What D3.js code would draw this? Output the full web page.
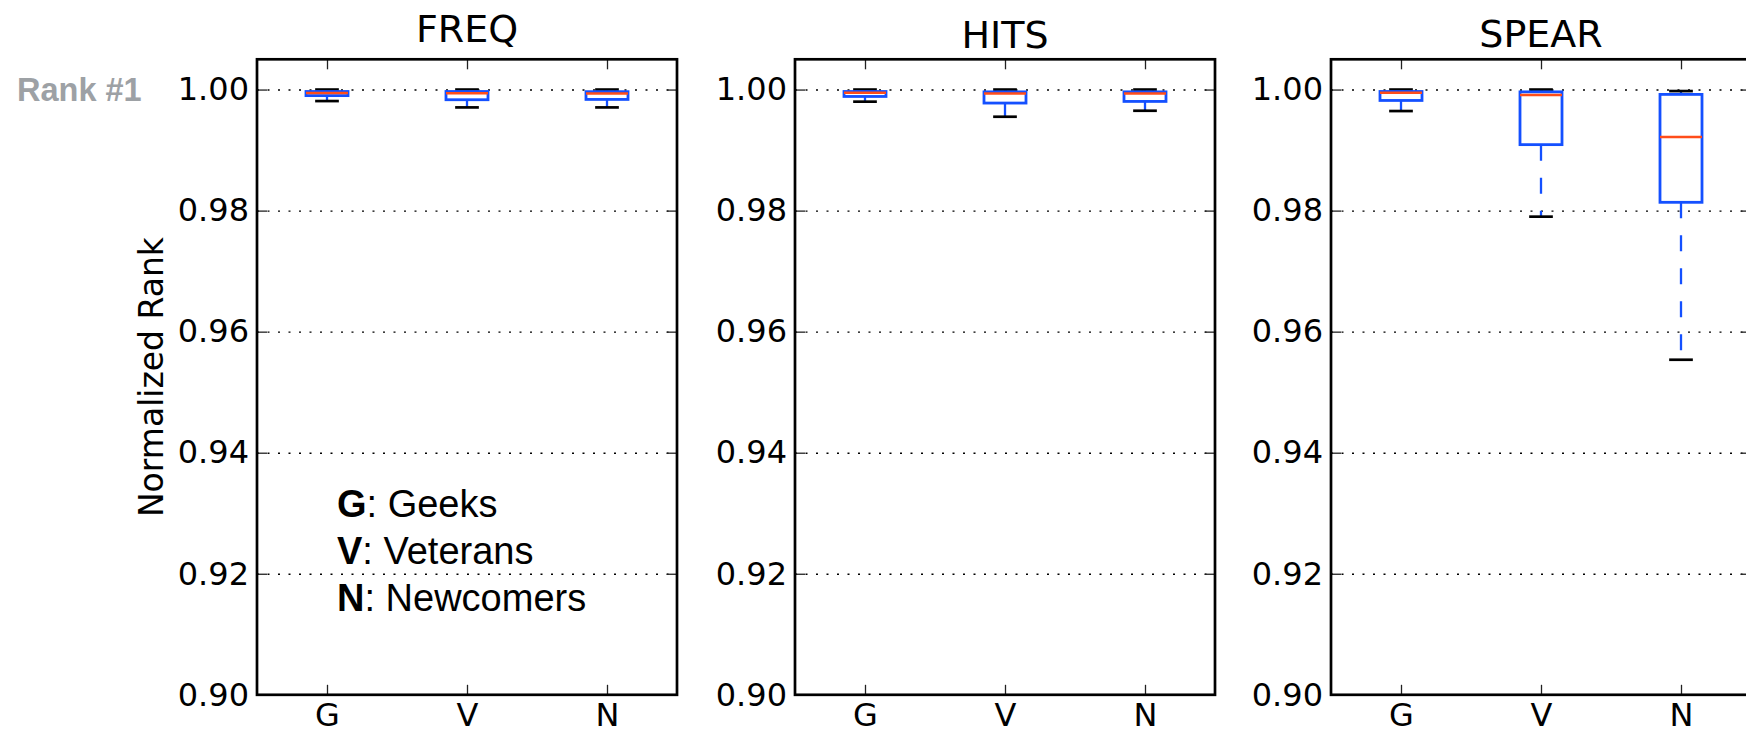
<!DOCTYPE html>
<html>
<head>
<script src="https://d3js.org/d3.v7.min.js"></script>
<style>
    body { margin: 0; background: #fff; }
    .tick text { font-family: "DejaVu Sans", sans-serif; font-size: 32px; fill: #000; }
    .tick line { stroke: #222; stroke-width: 1.3px; }
    .grid .tick line { stroke: #000; stroke-width: 1.4px; stroke-dasharray: 2, 8.5; }
</style>
</head>
<body>
<svg width="1746" height="731"></svg>
<script>
// box-plot stats, one row per method, columns G, V, N
var methods = ["FREQ", "HITS", "SPEAR"];
var groups = ["G", "V", "N"];
var lowWhisker = [[0.9981, 0.99705, 0.99705], [0.9980, 0.99551, 0.9965], [0.99645, 0.9790, 0.95536]];
var q1 = [[0.9990, 0.99832, 0.99837], [0.99886, 0.99777, 0.99804], [0.9982, 0.9909, 0.98137]];
var medians = [[0.99942, 0.9994, 0.99936], [0.99947, 0.99936, 0.99936], [0.99947, 0.9991, 0.99216]];
var q3 = [[0.99968, 0.99968, 0.99965], [0.99968, 0.99962, 0.99962], [0.99968, 0.99962, 0.9992]];
var highWhisker = [[1.0, 1.0, 1.0], [1.0, 1.0, 1.0], [1.0, 1.0, 0.99975]];
var yTicks = [0.90, 0.92, 0.94, 0.96, 0.98, 1.00];
var legendItems = [["G", "Geeks"], ["V", "Veterans"], ["N", "Newcomers"]];

var svg = d3.select("svg");
var panelLeft = [257, 795, 1331],
    titleY = [42, 48, 47],
    width = 420,
    plotTop = 59.3,
    plotBottom = 694.8,
    height = plotBottom - plotTop;

var boxBlue = "#1450ff", medColor = "#ff4d1a";

var y = d3.scaleLinear().domain([0.90, 1.005]).range([height, 0]);
var x = d3.scaleLinear().domain([0.5, 3.5]).range([0, width]);

methods.forEach(function (m, mi) {
    var g = svg.append("g").attr("transform", "translate(" + panelLeft[mi] + "," + plotTop + ")");

    // dotted horizontal grid
    g.append("g").attr("class", "grid")
        .call(d3.axisLeft(y).tickValues(yTicks).tickSize(-width).tickFormat(""))
        .call(function (s) { s.select(".domain").remove(); });

    g.append("text")
        .attr("x", width / 2)
        .attr("y", titleY[mi] - plotTop)
        .attr("text-anchor", "middle")
        .style("font-family", "DejaVu Sans, sans-serif")
        .style("font-size", "38px")
        .text(m);

    var stats = groups.map(function (d, i) {
        return {pos: i + 1, lo: lowWhisker[mi][i], q1: q1[mi][i], med: medians[mi][i], q3: q3[mi][i], hi: highWhisker[mi][i]};
    });

    var bw = x(1.15) - x(1), cw = x(1.075) - x(1);
    var box = g.selectAll(".box").data(stats).enter().append("g").attr("class", "box");

    // whiskers (dashed, drawn from the box outward)
    box.append("line")
        .attr("x1", function (d) { return x(d.pos); }).attr("x2", function (d) { return x(d.pos); })
        .attr("y1", function (d) { return y(d.q1); }).attr("y2", function (d) { return y(d.lo); })
        .attr("stroke", boxBlue).attr("stroke-width", 2.3).attr("stroke-dasharray", "16,17");
    box.append("line")
        .attr("x1", function (d) { return x(d.pos); }).attr("x2", function (d) { return x(d.pos); })
        .attr("y1", function (d) { return y(d.q3); }).attr("y2", function (d) { return y(d.hi); })
        .attr("stroke", boxBlue).attr("stroke-width", 2.3).attr("stroke-dasharray", "16,17");

    // caps
    ["lo", "hi"].forEach(function (k) {
        box.append("line")
            .attr("x1", function (d) { return x(d.pos) - cw; }).attr("x2", function (d) { return x(d.pos) + cw; })
            .attr("y1", function (d) { return y(d[k]); }).attr("y2", function (d) { return y(d[k]); })
            .attr("stroke", "#000").attr("stroke-width", 2.7).attr("stroke-linecap", "square");
    });

    box.append("rect")
        .attr("x", function (d) { return x(d.pos) - bw; })
        .attr("y", function (d) { return y(d.q3); })
        .attr("width", 2 * bw)
        .attr("height", function (d) { return y(d.q1) - y(d.q3); })
        .attr("fill", "none").attr("stroke", boxBlue).attr("stroke-width", 2.8);

    box.append("line")
        .attr("x1", function (d) { return x(d.pos) - bw; }).attr("x2", function (d) { return x(d.pos) + bw; })
        .attr("y1", function (d) { return y(d.med); }).attr("y2", function (d) { return y(d.med); })
        .attr("stroke", medColor).attr("stroke-width", 2.6);

    // axes with inward ticks on all four sides
    g.append("g")
        .call(d3.axisLeft(y).tickValues(yTicks).tickSize(-10).tickPadding(8).tickFormat(d3.format(".2f")))
        .call(function (s) { s.select(".domain").remove(); });
    g.append("g").attr("transform", "translate(" + width + ",0)")
        .call(d3.axisRight(y).tickValues(yTicks).tickSize(-10).tickFormat(""))
        .call(function (s) { s.select(".domain").remove(); });
    g.append("g")
        .call(d3.axisTop(x).tickValues([1, 2, 3]).tickSize(-10).tickFormat(""))
        .call(function (s) { s.select(".domain").remove(); });
    g.append("g").attr("transform", "translate(0," + height + ")")
        .call(d3.axisBottom(x).tickValues([1, 2, 3]).tickSize(-10).tickPadding(8)
            .tickFormat(function (d, i) { return groups[i]; }))
        .call(function (s) { s.select(".domain").remove(); });

    g.append("rect")
        .attr("width", width).attr("height", height)
        .attr("fill", "none").attr("stroke", "#000").attr("stroke-width", 2.7);
});

// y label on first panel
svg.append("text")
    .attr("transform", "translate(163," + (plotTop + height / 2) + ") rotate(-90)")
    .attr("text-anchor", "middle")
    .style("font-family", "DejaVu Sans, sans-serif")
    .style("font-size", "33px")
    .text("Normalized Rank");

svg.append("text")
    .attr("x", 17).attr("y", 101)
    .style("font-family", "Liberation Sans, Arial, sans-serif")
    .style("font-weight", "bold")
    .style("font-size", "32.5px")
    .attr("fill", "#9da1a5")
    .text("Rank #1");

var legend = svg.append("g")
    .style("font-family", "Liberation Sans, Arial, sans-serif")
    .style("font-size", "38px");
legendItems.forEach(function (d, i) {
    var t = legend.append("text").attr("x", 337).attr("y", 517 + i * 47);
    t.append("tspan").style("font-weight", "bold").text(d[0]);
    t.append("tspan").text(": " + d[1]);
});
</script>
</body>
</html>
